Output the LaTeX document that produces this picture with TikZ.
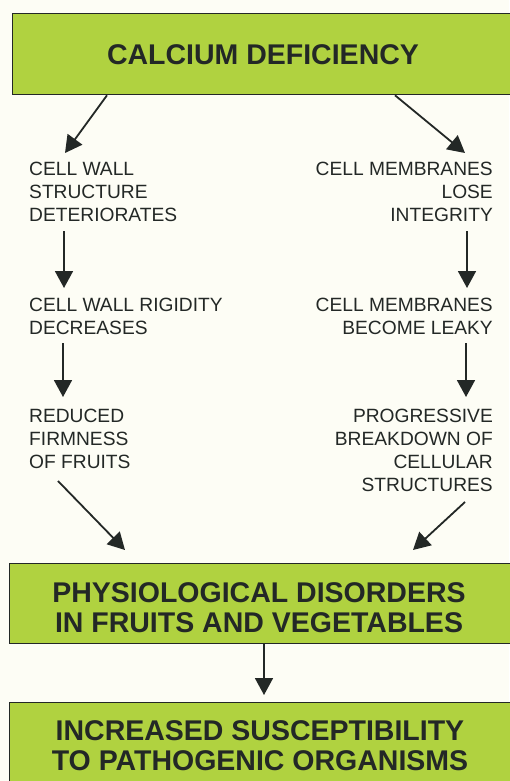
\documentclass[tikz,border=0pt]{standalone}
\usepackage{fontspec}
\setmainfont{Liberation Sans}
\usetikzlibrary{arrows.meta,calc}
\definecolor{boxgreen}{RGB}{176,210,64}
\definecolor{bg}{RGB}{253,253,245}
\definecolor{ink}{RGB}{35,40,38}
\begin{document}
\begin{tikzpicture}[x=1pt,y=1pt,
  box/.style={draw=ink, line width=1.3pt, fill=boxgreen, inner sep=0pt, anchor=north west},
  boxtext/.style={font=\fontsize{28.5}{30}\selectfont\bfseries, text=ink, align=center, inner sep=0pt, anchor=base},
  small/.style={font=\fontsize{19.2}{23}\selectfont, text=ink, inner sep=0pt},
  arr/.style={draw=ink, line width=1.8pt, -{Triangle[length=17pt,width=18pt]}}]
\fill[bg] (0,0) rectangle (509,-781);
\useasboundingbox (0,0) rectangle (509,-781);

% boxes
\node[box, minimum width=530pt, minimum height=81pt] (b1) at (12,-13) {};
\node[boxtext] (t1) at (263,-65) {CALCIUM DEFICIENCY};
\node[box, minimum width=530pt, minimum height=80pt] (b2) at (9,-563) {};
\node[boxtext] (t2) at (259,-632) {PHYSIOLOGICAL DISORDERS\\IN FRUITS AND VEGETABLES};
\node[box, minimum width=530pt, minimum height=110pt] (b3) at (9,-702) {};
\node[boxtext] (t3) at (260,-770) {INCREASED SUSCEPTIBILITY\\TO PATHOGENIC ORGANISMS};

% left column (anchored at the baseline of the last line)
\node[small, align=left, anchor=base west] (L1) at (29,-221) {CELL WALL\\STRUCTURE\\DETERIORATES};
\node[small, align=left, anchor=base west] (L2) at (29,-334) {CELL WALL RIGIDITY\\DECREASES};
\node[small, align=left, anchor=base west] (L3) at (29,-468) {REDUCED\\FIRMNESS\\OF FRUITS};
% right column
\node[small, align=right, anchor=base east] (R1) at (493,-221) {CELL MEMBRANES\\LOSE\\INTEGRITY};
\node[small, align=right, anchor=base east] (R2) at (493,-334) {CELL MEMBRANES\\BECOME LEAKY};
\node[small, align=right, anchor=base east] (R3) at (493,-491) {PROGRESSIVE\\BREAKDOWN OF\\CELLULAR\\STRUCTURES};

% connectors
\draw[arr] ($(b1.south west)+(95,0)$) -- ($(L1.base west)+(36,68)$);
\draw[arr] ($(b1.south west)+(383,0)$) -- ($(R1.base east)+(-28,68)$);
\draw[arr] ($(L1.base west)+(35,-10)$) -- ($(L2.base west)+(35,46)$);
\draw[arr] ($(L2.base west)+(34,-9)$) -- ($(L3.base west)+(34,71)$);
\draw[arr] ($(R1.base east)+(-26,-10)$) -- ($(R2.base east)+(-26,46)$);
\draw[arr] ($(R2.base east)+(-27,-9)$) -- ($(R3.base east)+(-27,94)$);
\draw[arr] ($(L3.base west)+(29,-13)$) -- ($(b2.north west)+(116,13)$);
\draw[arr] ($(R3.base east)+(-28,-11)$) -- ($(b2.north west)+(404,13)$);
\draw[arr] ($(b2.south west)+(255,0)$) -- ($(b3.north west)+(255,7)$);
\end{tikzpicture}
\end{document}
